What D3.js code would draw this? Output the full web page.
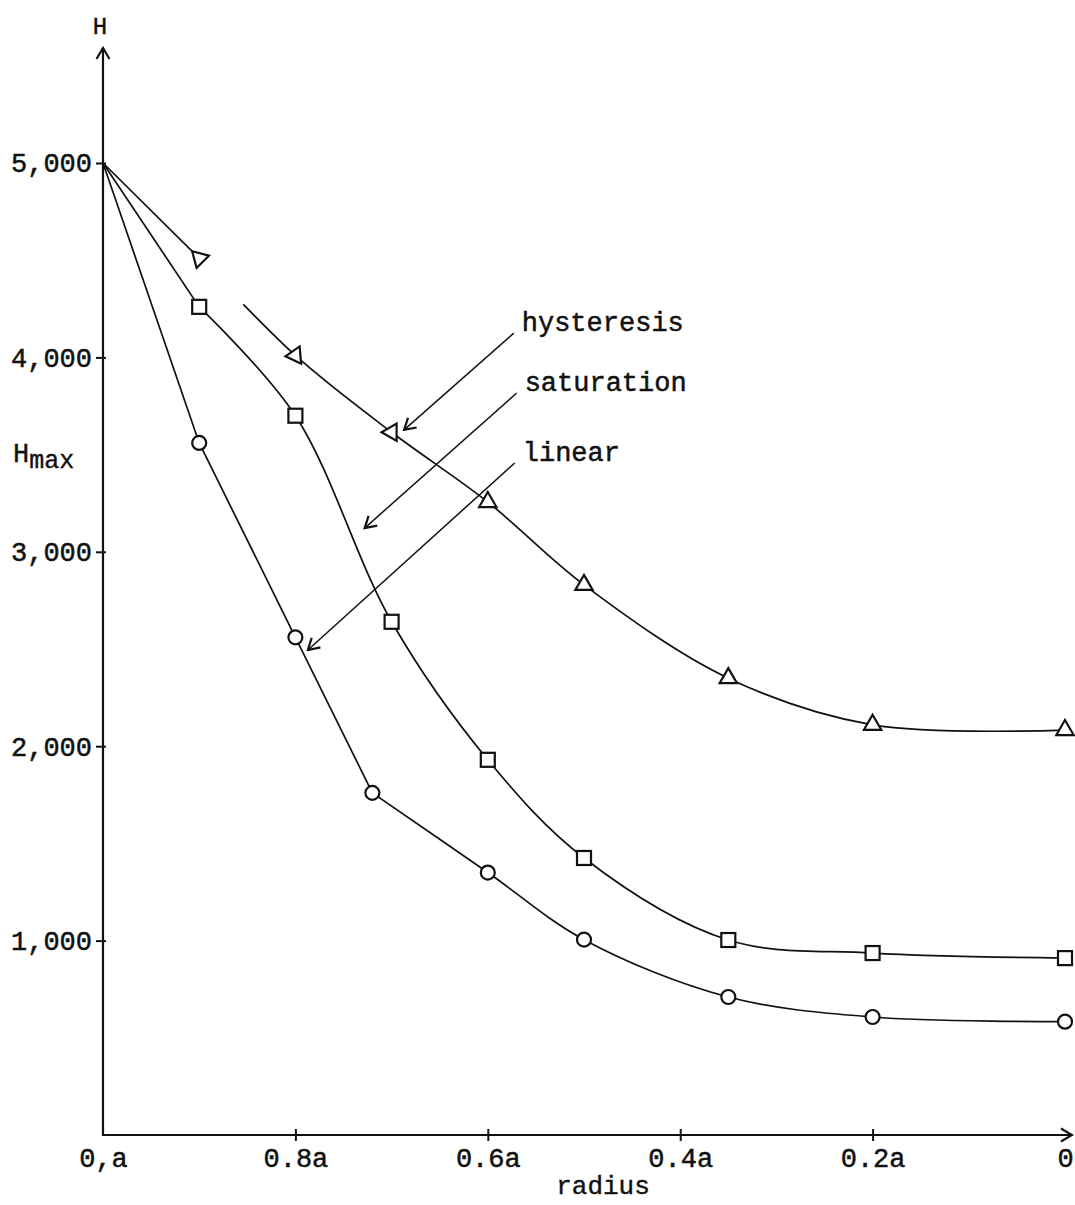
<!DOCTYPE html>
<html>
<head>
<meta charset="utf-8">
<script src="https://cdn.jsdelivr.net/npm/d3@7"></script>
<style>
  html, body { margin: 0; padding: 0; background: #fff; }
  svg text { font-family: "Liberation Mono", "DejaVu Sans Mono", monospace; fill: #111; }
</style>
</head>
<body>
<svg id="chart" width="1075" height="1205"></svg>
<script>
// values (radius as fraction of a, H in field units)
const linearR = [1, 0.9, 0.8, 0.72, 0.6, 0.5, 0.35, 0.2, 0];
const linearH = [5000, 3560, 2560, 1760, 1350, 1005, 710, 607, 583];

const satR = [1, 0.9, 0.8, 0.7, 0.6, 0.5, 0.35, 0.2, 0];
const satH = [5000, 4260, 3700, 2640, 1930, 1425, 1003, 936, 910];

const hystR = [1, 0.9, 0.8, 0.7, 0.6, 0.5, 0.35, 0.2, 0];
const hystH = [5000, 4510, 4010, 3615, 3256, 2830, 2350, 2110, 2083];
// the hand drawn triangles are not all upright
const hystRotate = [0, 75, -95, -90, 0, 0, 0, 0, 0];

const yTicks = [1000, 2000, 3000, 4000, 5000];
const xTicks = [1, 0.8, 0.6, 0.4, 0.2, 0];
const xTickLabels = ["0,a", "0.8a", "0.6a", "0.4a", "0.2a", "0"];

// annotation labels with arrow start / tip in data units
const noteText = ["hysteresis", "saturation", "linear"];
const noteFrom = [[0.573, 4125], [0.570, 3817], [0.572, 3457]];
const noteTo = [[0.687, 3627], [0.728, 3122], [0.787, 2495]];

const svg = d3.select("#chart");

const x = d3.scaleLinear().domain([1, 0]).range([103, 1065]);
const y = d3.scaleLinear().domain([0, 5000]).range([1135, 163]);

const defs = svg.append("defs");
defs.append("marker")
  .attr("id", "open-arrow")
  .attr("viewBox", "-12 -8 14 16")
  .attr("markerUnits", "userSpaceOnUse")
  .attr("markerWidth", 14)
  .attr("markerHeight", 16)
  .attr("refX", 0)
  .attr("refY", 0)
  .attr("orient", "auto")
  .append("path")
  .attr("d", "M-11,-6.5 L0,0 L-11,6.5")
  .attr("fill", "none")
  .attr("stroke", "#111")
  .attr("stroke-width", 2.2);

const font = 27;

// ---- y axis
const yAxis = svg.append("g")
  .attr("transform", `translate(${x(1)},0)`)
  .call(d3.axisLeft(y).tickValues(yTicks).tickFormat(d3.format(",")).tickSizeOuter(0));
yAxis.select(".domain").remove();
yAxis.selectAll(".tick line")
  .attr("x1", -7).attr("x2", 3)
  .attr("stroke", "#111").attr("stroke-width", 2);
yAxis.selectAll(".tick text")
  .attr("x", -11)
  .attr("dy", "0.33em")
  .style("font-size", font + "px")
  .attr("stroke", "#111").attr("stroke-width", 0.5);

svg.append("line")
  .attr("x1", x(1)).attr("x2", x(1))
  .attr("y1", y(0)).attr("y2", 48)
  .attr("stroke", "#111").attr("stroke-width", 2.2)
  .attr("marker-end", "url(#open-arrow)");

svg.append("text")
  .attr("x", x(1) - 3).attr("y", 34)
  .attr("text-anchor", "middle")
  .style("font-size", "24px")
  .attr("stroke", "#111").attr("stroke-width", 0.4)
  .text("H");

const hmax = svg.append("text")
  .attr("x", 13).attr("y", 462)
  .style("font-size", font + "px")
  .attr("stroke", "#111").attr("stroke-width", 0.4);
hmax.append("tspan").text("H");
hmax.append("tspan").attr("dy", 6).style("font-size", "25px").text("max");

// ---- x axis
const xAxis = svg.append("g")
  .attr("transform", `translate(0,${y(0)})`)
  .call(d3.axisBottom(x).tickValues(xTicks).tickFormat((d, i) => xTickLabels[i]).tickSizeOuter(0));
xAxis.select(".domain").remove();
xAxis.selectAll(".tick line")
  .attr("y1", -6).attr("y2", 6)
  .attr("stroke", "#111").attr("stroke-width", 2)
  .filter(d => d === 1 || d === 0).remove();
xAxis.selectAll(".tick text")
  .attr("y", 32)
  .attr("dy", 0)
  .style("font-size", font + "px")
  .attr("stroke", "#111").attr("stroke-width", 0.5);

svg.append("line")
  .attr("x1", x(1) - 1).attr("x2", 1072)
  .attr("y1", y(0)).attr("y2", y(0))
  .attr("stroke", "#111").attr("stroke-width", 2)
  .attr("marker-end", "url(#open-arrow)");

svg.append("text")
  .attr("x", 603).attr("y", 1194)
  .attr("text-anchor", "middle")
  .style("font-size", "26px")
  .attr("stroke", "#111").attr("stroke-width", 0.4)
  .text("radius");

// ---- curves
// ruled = index of the last point reached by straight ruled segments
const series = [
  { name: "linear", r: linearR, h: linearH, shape: "circle", ruled: 3 },
  { name: "saturation", r: satR, h: satH, shape: "square", ruled: 1 },
  { name: "hysteresis", r: hystR, h: hystH, shape: "triangle", rot: hystRotate, ruled: 1 }
];

const straight = d3.line().x(d => x(d[0])).y(d => y(d[1]));
const smooth = d3.line().x(d => x(d[0])).y(d => y(d[1])).curve(d3.curveCatmullRom.alpha(0.5));

const curves = svg.append("g").attr("fill", "none").attr("stroke", "#111").attr("stroke-width", 1.7);

series.forEach(s => {
  const pts = s.r.map((r, i) => [r, s.h[i]]);
  if (s.name === "hysteresis") {
    curves.append("path").attr("d", straight(pts.slice(0, 2)));
    // pen lifted just after the 0.9a point
    curves.append("path").attr("d", smooth(pts.slice(1)))
      .attr("stroke-dasharray", "0 64 5000");
  } else {
    curves.append("path").attr("d", straight(pts.slice(0, s.ruled + 1)));
    curves.append("path").attr("d", smooth(pts.slice(s.ruled)));
  }
});

// ---- point markers
const marks = svg.append("g").attr("fill", "#fff").attr("stroke", "#111").attr("stroke-width", 2.2);

series.forEach(s => {
  const pts = s.r.map((r, i) => ({ r, h: s.h[i], rot: s.rot ? s.rot[i] : 0 })).slice(1);
  if (s.shape === "circle") {
    marks.selectAll(null).data(pts).join("circle")
      .attr("cx", d => x(d.r)).attr("cy", d => y(d.h)).attr("r", 7);
  } else if (s.shape === "square") {
    marks.selectAll(null).data(pts).join("rect")
      .attr("x", d => x(d.r) - 7).attr("y", d => y(d.h) - 7)
      .attr("width", 14).attr("height", 14);
  } else {
    marks.selectAll(null).data(pts).join("path")
      .attr("d", d3.symbol(d3.symbolTriangle, 130))
      .attr("transform", d => `translate(${x(d.r)},${y(d.h)}) rotate(${d.rot})`);
  }
});

// ---- annotations
const notes = svg.append("g");
noteText.forEach((t, i) => {
  const [r0, h0] = noteFrom[i];
  const [r1, h1] = noteTo[i];
  notes.append("line")
    .attr("x1", x(r0)).attr("y1", y(h0))
    .attr("x2", x(r1)).attr("y2", y(h1))
    .attr("stroke", "#111").attr("stroke-width", 1.5)
    .attr("marker-end", "url(#open-arrow)");
  notes.append("text")
    .attr("x", x(r0) + 8).attr("y", y(h0) - 2)
    .style("font-size", font + "px")
    .attr("stroke", "#111").attr("stroke-width", 0.5)
    .text(t);
});
</script>
</body>
</html>
